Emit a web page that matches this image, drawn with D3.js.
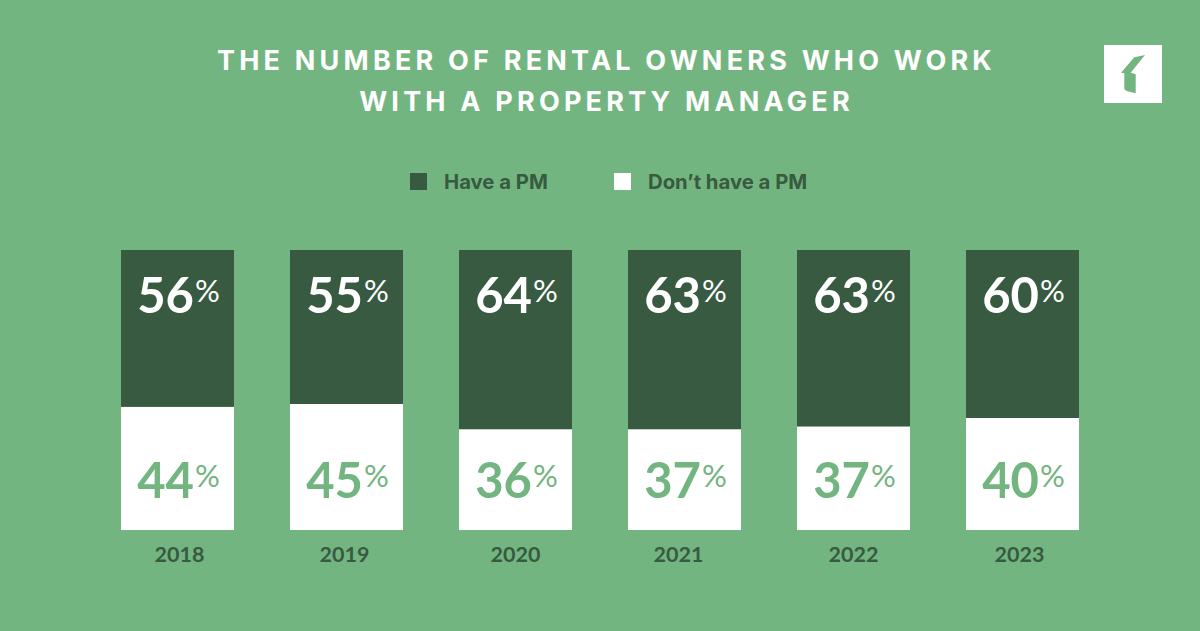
<!DOCTYPE html>
<html>
<head>
<meta charset="utf-8">
<script src="https://cdn.jsdelivr.net/npm/d3@7"></script>
<style>
  html, body { margin: 0; padding: 0; background: #73b580; }
  svg { display: block; font-family: Lato, "Open Sans", sans-serif; }
</style>
</head>
<body>
<div id="chart"></div>
<script>
const years = ["2018", "2019", "2020", "2021", "2022", "2023"];
// printed labels
const havePm = [56, 55, 64, 63, 63, 60];
const noPm = [44, 45, 36, 37, 37, 40];
// the split drawn in the picture is a bit off the printed label for 2021
const haveDrawn = [56, 55, 64, 64, 63, 60];
const noDrawn = [44, 45, 36, 36, 37, 40];

const titleLines = ["THE NUMBER OF RENTAL OWNERS WHO WORK", "WITH A PROPERTY MANAGER"];
const legendLabels = ["Have a PM", "Don\u2019t have a PM"];

const width = 1200, height = 631;
const bg = "#73b580", dark = "#375a41";

const svg = d3.select("#chart").append("svg")
    .attr("width", width)
    .attr("height", height);

svg.append("rect").attr("width", width).attr("height", height).attr("fill", bg);

// title
svg.selectAll(".title").data(titleLines)
  .enter().append("text")
    .attr("class", "title")
    .attr("x", 606.5)
    .attr("y", (d, i) => 70 + i * 41)
    .attr("text-anchor", "middle")
    .attr("fill", "#fff")
    .attr("font-family", "Inter, sans-serif")
    .attr("font-size", 27)
    .attr("font-weight", 700)
    .attr("letter-spacing", 4.2)
    .text(d => d);

// logo
svg.append("rect").attr("x", 1104).attr("y", 45).attr("width", 58).attr("height", 58).attr("fill", "#fff");
svg.append("path")
    .attr("d", "M1145 55 L1134.3 57.3 L1121 72.7 L1124.3 73.3 L1124.3 89.3 L1126.7 91 L1135.7 93.3 L1135.7 74.3 L1130.7 72.7 Z")
    .attr("fill", bg);

// legend
const legendX = [410, 614], legendTextX = [444, 648];
svg.selectAll(".swatch").data(legendLabels)
  .enter().append("rect")
    .attr("class", "swatch")
    .attr("x", (d, i) => legendX[i])
    .attr("y", 173)
    .attr("width", 17)
    .attr("height", 17)
    .attr("fill", (d, i) => i === 0 ? dark : "#fff");
svg.selectAll(".legend-label").data(legendLabels)
  .enter().append("text")
    .attr("class", "legend-label")
    .attr("x", (d, i) => legendTextX[i])
    .attr("y", 188.5)
    .attr("fill", dark)
    .attr("font-family", "Inter, sans-serif")
    .attr("font-size", 20.3)
    .attr("font-weight", 700)
    .text(d => d);

// scales
const x = d3.scaleBand().domain(years).range([121, 1079]).paddingInner(0.3314);
const y = d3.scaleLinear().domain([0, 100]).range([530, 250]);

const rows = years.map((year, i) => ({year, no: noDrawn[i], have: haveDrawn[i]}));
const series = d3.stack().keys(["no", "have"])(rows);

svg.selectAll(".layer").data(series)
  .enter().append("g")
    .attr("class", "layer")
    .attr("fill", d => d.key === "have" ? dark : "#fff")
  .selectAll("rect").data(d => d)
  .enter().append("rect")
    .attr("x", d => x(d.data.year))
    .attr("y", d => y(d[1]))
    .attr("width", x.bandwidth())
    .attr("height", d => y(d[0]) - y(d[1]));

// percent labels, big number + small %
function drawLabels(values, baseline, color) {
  const label = svg.append("g").selectAll("text").data(values)
    .enter().append("text")
      .attr("x", (d, i) => x(years[i]) + x.bandwidth() / 2 + 1)
      .attr("y", baseline)
      .attr("text-anchor", "middle")
      .attr("fill", color);
  label.append("tspan")
      .attr("font-size", 49)
      .attr("font-weight", 700)
      .text(d => d);
  label.append("tspan")
      .attr("font-size", 31)
      .attr("font-weight", 400)
      .attr("dx", 1)
      .attr("dy", -11)
      .text("%");
}
drawLabels(havePm, 312.5, "#fff");
drawLabels(noPm, 497.5, bg);

// year axis, labels are not quite centred under the bars in the picture
const yearNudge = [2, -2, 0, -6, 0, -3];
const xAxis = svg.append("g")
    .attr("transform", "translate(0,530)")
    .call(d3.axisBottom(x).tickSize(0).tickPadding(16.5));
xAxis.select(".domain").remove();
xAxis.selectAll("text")
    .attr("dx", (d, i) => yearNudge[i])
    .attr("fill", dark)
    .attr("font-size", 21.5)
    .attr("font-weight", 700)
    .attr("font-family", "Lato, sans-serif");
</script>
</body>
</html>
